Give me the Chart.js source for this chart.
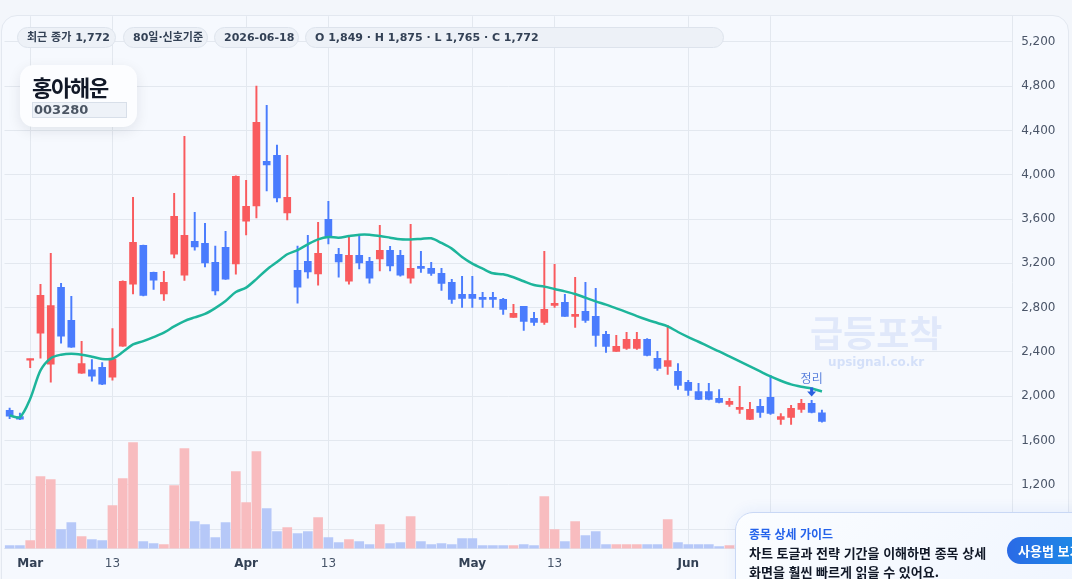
<!DOCTYPE html>
<html lang="ko">
<head>
<meta charset="utf-8">
<script src="https://cdn.jsdelivr.net/npm/chart.js@4.4.1/dist/chart.umd.min.js"></script>
<style>
  html, body { margin:0; padding:0; width:1072px; height:579px; overflow:hidden; background:#f3f6fb; font-family:"DejaVu Sans","Noto Sans CJK KR",sans-serif; }
  .card { position:absolute; left:1px; top:15px; width:1066px; height:620px; background:#f6f9fe; border:1px solid #e3e8f0; border-radius:16px; }
  canvas { position:absolute; left:0; top:0; }
  .pill { position:absolute; top:27px; height:19px; line-height:19px; border:1px solid #dde3ec; background:#edf1f7; border-radius:11px; font-size:11px; font-weight:bold; color:#334155; padding-left:9px; box-sizing:content-box; white-space:nowrap; }
  .title { position:absolute; left:20px; top:65px; width:117px; height:62px; background:#fcfdff; border-radius:14px; box-shadow:0 4px 14px rgba(15,23,42,0.09); }
  .name { position:absolute; left:32px; top:73px; font-family:"Noto Sans CJK KR",sans-serif; font-weight:bold; font-size:22px; line-height:26px; letter-spacing:-1.2px; color:#111827; }
  .code { position:absolute; left:32px; top:102px; width:92px; height:14px; line-height:14px; border:1px solid #d8dfe9; background:#eef2f8; font-size:13px; font-weight:bold; color:#4b5563; padding-left:1px; }
  .guide { position:absolute; left:735px; top:512px; width:400px; height:90px; border:1px solid #c9d8f5; border-radius:18px 0 0 0; background:linear-gradient(135deg,#fbfdff 0%,#eef4ff 100%); box-shadow:0 -2px 14px rgba(37,99,235,0.08); }
  .g1 { position:absolute; left:749px; top:526px; font-size:12px; font-weight:bold; color:#2563eb; font-family:"Noto Sans CJK KR",sans-serif; line-height:16px; }
  .g2 { position:absolute; left:749px; top:543px; font-size:13px; font-weight:bold; color:#111827; font-family:"Noto Sans CJK KR",sans-serif; line-height:19px; }
  .btn { position:absolute; left:1007px; top:537px; width:110px; height:27px; line-height:27px; border-radius:14px; background:linear-gradient(90deg,#2a6ae6,#169be6); color:#fff; font-size:13px; font-weight:bold; padding-left:11px; font-family:"Noto Sans CJK KR",sans-serif; box-sizing:border-box; }
</style>
</head>
<body>
<div class="card"></div>
<canvas id="c" width="1072" height="579" style="width:1072px;height:579px"></canvas>
<div class="pill" style="left:17px;width:88px;">최근 종가 1,772</div>
<div class="pill" style="left:123px;width:74px;">80일·신호기준</div>
<div class="pill" style="left:214px;width:74px;">2026-06-18</div>
<div class="pill" style="left:305px;width:408px;">O 1,849 · H 1,875 · L 1,765 · C 1,772</div>
<div class="title"></div>
<div class="name">홍아해운</div>
<div class="code">003280</div>
<div class="guide"></div>
<div class="g1">종목 상세 가이드</div>
<div class="g2">차트 토글과 전략 기간을 이해하면 종목 상세<br>화면을 훨씬 빠르게 읽을 수 있어요.</div>
<div class="btn">사용법 보기</div>
<script>
// ---- data ----
const dates = [
 '2026-02-26','2026-02-27',
 '2026-03-03','2026-03-04','2026-03-05','2026-03-06','2026-03-09','2026-03-10','2026-03-11','2026-03-12','2026-03-13',
 '2026-03-16','2026-03-17','2026-03-18','2026-03-19','2026-03-20','2026-03-23','2026-03-24','2026-03-25','2026-03-26','2026-03-27',
 '2026-03-30','2026-03-31',
 '2026-04-01','2026-04-02','2026-04-03','2026-04-06','2026-04-07','2026-04-08','2026-04-09','2026-04-10','2026-04-13','2026-04-14',
 '2026-04-15','2026-04-16','2026-04-17','2026-04-20','2026-04-21','2026-04-22','2026-04-23','2026-04-24','2026-04-27','2026-04-28',
 '2026-04-29','2026-04-30',
 '2026-05-01','2026-05-04','2026-05-05','2026-05-06','2026-05-07','2026-05-08','2026-05-11','2026-05-12','2026-05-13','2026-05-14',
 '2026-05-15','2026-05-18','2026-05-19','2026-05-20','2026-05-21','2026-05-22','2026-05-25','2026-05-26','2026-05-27','2026-05-28',
 '2026-05-29',
 '2026-06-01','2026-06-02','2026-06-03','2026-06-04','2026-06-05','2026-06-08','2026-06-09','2026-06-10','2026-06-11','2026-06-12',
 '2026-06-15','2026-06-16','2026-06-17','2026-06-18'
];
const futureSlots = ['','','','','','','','','','','','','','','','','',''];
const opens  = [1872,1817,2326,2570,2290,2983,2685,2209,2239,2260, 2173,2453,3013,3363,3119,2923,3284,3094,3399,3381,
                3209,3345,3194,3582,3718,4122,4176,3655,3137,3218, 3104,3598,3281,3040,3272,3218,3239,3318,3272,3067,
                3173,3155,3110,3028,2920,2920,2893,2893,2875,2712, 2812,2703,2667,2821,2848,2721,2766,2721,2558,2405,
                2432,2432,2513,2342,2269,2224,2125,2043,2043,1980, 1926,1881,1790,1908,1989,1790,1808,1881,1935,1849];
const highs  = [1892,1847,2335,3010,3290,3019,2902,2495,2330,2305, 2610,3042,3797,3366,3122,3128,3833,4348,3661,3562,
                3357,3489,3990,3950,4800,4628,4267,4176,3357,3453, 3571,3760,3336,3435,3453,3254,3544,3354,3318,3553,
                3309,3209,3155,3056,3083,3083,2938,2938,2884,2830, 2812,2757,3309,3191,2920,3074,3028,2974,2586,2549,
                2577,2577,2520,2405,2640,2296,2143,2116,2116,2061, 1980,2089,1944,1971,2188,1844,1917,1971,1962,1875];
const lows   = [1797,1788,2258,2344,2127,2480,2440,2205,2136,2105, 2146,2450,2923,2905,2965,2866,3248,3046,3318,3167,
                2914,3055,3103,3456,3610,3854,3754,3592,2841,3067, 3004,3375,3076,3013,3149,3022,3131,3131,3085,3022,
                3119,3092,2956,2839,2802,2802,2802,2802,2739,2712, 2595,2640,2649,2802,2721,2622,2667,2450,2396,2405,
                2423,2423,2365,2233,2197,2061,2007,1968,1966,1940, 1908,1844,1788,1808,1835,1745,1745,1854,1850,1765];
const closes = [1820,1793,2332,2911,2818,2543,2444,2294,2182,2109, 2336,3037,3390,2911,3049,3028,3625,3453,3348,3203,
                2950,3058,3986,3715,4474,4089,3790,3797,2986,3122, 3290,3441,3212,3272,3203,3067,3318,3176,3094,3155,
                3155,3110,3019,2875,2884,2884,2875,2875,2784,2748, 2676,2667,2784,2839,2721,2739,2685,2549,2450,2450,
                2513,2513,2369,2251,2323,2098,2052,1971,1971,1944, 1953,1899,1881,1854,1845,1817,1890,1935,1854,1772];
// volume in thousand shares
const volumes = [45,45,120,1080,1035,285,390,180,135,120, 645,1050,1590,105,75,60,945,1500,405,360,
                 165,390,1155,690,1455,600,255,315,225,255, 465,165,90,135,105,60,360,75,90,480,
                 105,60,75,60,150,150,45,45,45,45, 60,45,780,285,105,405,195,255,60,60,
                 60,60,60,60,435,90,60,60,60,30, 45,60,75,45,90,60,75,60,90,75];
const ma = [1826,1811,1977,2233,2344,2375,2384,2375,2357,2337, 2339,2399,2468,2498,2534,2574,2631,2679,2712,2743,
            2796,2860,2941,2981,3058,3143,3212,3282,3320,3372, 3417,3438,3432,3447,3459,3459,3447,3432,3417,3416,
            3421,3426,3384,3333,3257,3197,3152,3110,3101,3074, 3038,3004,2990,2968,2947,2923,2890,2857,2827,2794,
            2760,2724,2691,2661,2631,2580,2534,2492,2447,2405, 2360,2314,2269,2224,2179,2140,2107,2086,2070,2043];
const yTicks = [800,1200,1600,2000,2400,2800,3200,3600,4000,4400,4800,5200];
const xTickIdx  = [2,10,23,31,45,53,66,74];
const xTickText = ['Mar','13','Apr','13','May','13','Jun','11'];
const signalIdx = 78;
const signalText = '정리';

// ---- styles ----
const UP = '#f95b5e', DOWN = '#4a7cfd';
const UPV = '#f8bcbf', DOWNV = '#b6c8f8';
const GRID = '#e3e8ef';
const FONT = "'DejaVu Sans','Noto Sans CJK KR',sans-serif";

const labels = dates.concat(futureSlots);
const isUp = opens.map((o,i)=> closes[i] >= o);
const tickMap = {}; xTickIdx.forEach((v,i)=> tickMap[v] = xTickText[i]);

const watermark = {
  id:'watermark',
  beforeDatasetsDraw(chart){
    const {ctx, chartArea} = chart;
    ctx.save();
    ctx.textAlign='center'; ctx.textBaseline='middle';
    ctx.fillStyle='rgba(90,135,230,0.14)';
    ctx.font="bold 36px 'Noto Sans CJK KR',sans-serif";
    const cx = chartArea.right - 136;
    ctx.fillText('급등포착', cx, 333);
    ctx.fillStyle='rgba(90,135,230,0.22)';
    ctx.font="bold 12px 'DejaVu Sans',sans-serif";
    ctx.fillText('upsignal.co.kr', cx, 363);
    ctx.restore();
  }
};
const signal = {
  id:'signal',
  afterDatasetsDraw(chart){
    const {ctx, scales} = chart;
    const x = scales.x.getPixelForValue(signalIdx);
    const yh = scales.y.getPixelForValue(highs[signalIdx]);
    ctx.save();
    ctx.fillStyle='#2a5fe0';
    const tip = yh - 4;
    ctx.fillRect(x-1.5, tip-9, 3, 5);
    ctx.beginPath(); ctx.moveTo(x-4.5, tip-5); ctx.lineTo(x+4.5, tip-5); ctx.lineTo(x, tip); ctx.closePath(); ctx.fill();
    ctx.fillStyle='#5a80dc';
    ctx.font="12px 'Noto Sans CJK KR',sans-serif";
    ctx.textAlign='center'; ctx.textBaseline='middle';
    ctx.fillText(signalText, x, tip-18);
    ctx.restore();
  }
};

new Chart(document.getElementById('c'), {
  type:'bar',
  data:{
    labels,
    datasets:[
      { type:'line', data:ma, yAxisID:'y', borderColor:'#1db59b', borderWidth:2.5, pointRadius:0, tension:0.3, order:0 },
      { data:opens.map((o,i)=>[o,closes[i]]), yAxisID:'y', backgroundColor:isUp.map(u=>u?UP:DOWN), barThickness:7, grouped:false, minBarLength:1.5, order:1 },
      { data:lows.map((l,i)=>[l,highs[i]]), yAxisID:'y', backgroundColor:isUp.map(u=>u?UP:DOWN), barThickness:1.3, grouped:false, order:2 },
      { data:volumes, yAxisID:'yv', backgroundColor:isUp.map(u=>u?UPV:DOWNV), barThickness:9, grouped:false, order:3 }
    ]
  },
  options:{
    responsive:false, animation:false, devicePixelRatio:1,
    layout:{ padding:{ left:4.5, top:16, right:7.5, bottom:0 } },
    plugins:{ legend:{display:false}, tooltip:{enabled:false} },
    scales:{
      x:{
        offset:true,
        grid:{ color:GRID, offset:false, drawTicks:false },
        border:{ color:GRID },
        afterBuildTicks:(s)=>{ s.ticks = xTickIdx.map(v=>({value:v})); },
        ticks:{
          autoSkip:false, maxRotation:0, padding:8,
          callback:(v)=> tickMap[v] ?? '',
          font:(c)=>({ family:FONT, size:12, weight: (c.tick && /[A-Za-z]/.test(tickMap[c.tick.value]||'')) ? 'bold':'normal' }),
          color:(c)=> (c.tick && /[A-Za-z]/.test(tickMap[c.tick.value]||'')) ? '#334155' : '#475569'
        }
      },
      y:{
        position:'right', min:624, max:5432,
        grid:{ color:GRID, drawTicks:false },
        border:{ color:GRID },
        afterBuildTicks:(s)=>{ s.ticks = yTicks.map(v=>({value:v})); },
        ticks:{ padding:9, color:'#4a5568', font:{family:FONT, size:12}, callback:(v)=> v.toLocaleString('en-US') }
      },
      yv:{ display:false, min:0, max:7980 }
    }
  },
  plugins:[watermark, signal]
});
</script>
</body>
</html>
